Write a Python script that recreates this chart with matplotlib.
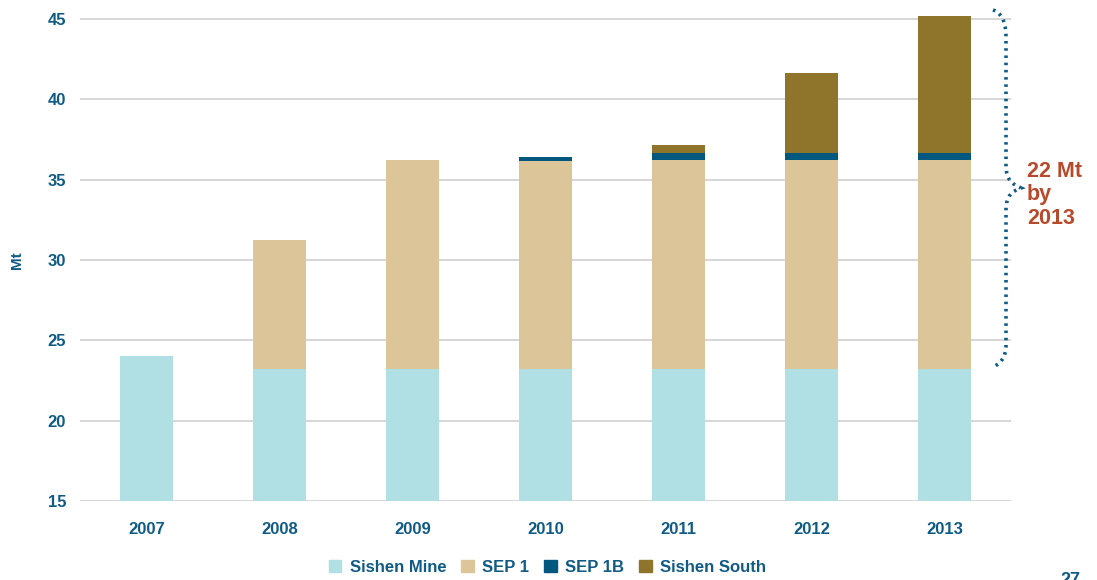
import numpy as np
import matplotlib.pyplot as plt
from matplotlib.path import Path
from matplotlib.patches import PathPatch, Patch

plt.rcParams['font.family'] = ['Liberation Sans', 'DejaVu Sans']
plt.rcParams['font.weight'] = 'bold'

years = ['2007', '2008', '2009', '2010', '2011', '2012', '2013']
sishen_mine = [24.0, 23.2, 23.2, 23.2, 23.2, 23.2, 23.2]
sep1 = [0.0, 8.05, 13.0, 12.95, 13.0, 13.0, 13.0]
sep1b = [0.0, 0.0, 0.0, 0.25, 0.45, 0.45, 0.45]
sishen_south = [0.0, 0.0, 0.0, 0.0, 0.5, 5.0, 8.55]

names = ['Sishen Mine', 'SEP 1', 'SEP 1B', 'Sishen South']
cols = ['#b0dfe4', '#dcc699', '#02577f', '#8f752c']
blue = '#0f5b86'

W, H = 1097, 580
ppu = 482 / 30.0  # pixels per Mt
ytop = 45.5
fig = plt.figure(figsize=(W/100, H/100), dpi=100)
ax = fig.add_axes([80/W, 1-501/H, 931/W, (ytop-15)*ppu/H])

x = np.arange(len(years))
base = np.zeros(len(years))
for vals, c in zip([sishen_mine, sep1, sep1b, sishen_south], cols):
    v = np.array(vals)
    ax.bar(x, v, 0.4, bottom=base, color=c, zorder=2)
    base = base + v

ax.set_ylim(15, ytop)
ax.set_xlim(-0.5, 6.5)
ax.set_yticks([15, 20, 25, 30, 35, 40, 45])
ax.set_xticks(x)
ax.set_xticklabels(years)
ax.grid(axis='y', color='#d0d0d0', lw=1.2, zorder=0)
for s in ax.spines.values():
    s.set_visible(False)
ax.tick_params(length=0, labelsize=12, labelcolor=blue)
ax.tick_params(axis='x', pad=15)
ax.tick_params(axis='y', pad=10)
ax.set_ylabel('Mt', fontsize=11, color=blue, fontweight='bold')
ax.yaxis.set_label_coords(-56/931, 15/(ytop-15))

handles = [Patch(color=c) for c in cols]
leg = fig.legend(handles, names, loc='center', bbox_to_anchor=(0.499, 1-567/H),
                 ncol=4, frameon=False, handlelength=0.75, handleheight=0.75,
                 handletextpad=0.5, columnspacing=0.9, prop={'size': 12, 'weight': 'bold'})
for t in leg.get_texts():
    t.set_color(blue)

# curly brace on the right (pixel coords -> figure fraction)
pts = [(993, 10), (1004, 14), (1006, 25), (1006, 40),
       (1006, 100), (1006, 160), (1006, 165),
       (1006, 180), (1012, 184), (1021, 188),
       (1012, 191), (1006, 196), (1006, 210),
       (1006, 260), (1006, 320), (1006, 345),
       (1006, 358), (1000, 364), (993, 367)]
codes = [Path.MOVETO] + [Path.CURVE4] * 3 + [Path.LINETO] * 3 + \
        [Path.CURVE4] * 6 + [Path.LINETO] * 3 + [Path.CURVE4] * 3
fpts = [(px/W, 1-py/H) for px, py in pts]
brace = PathPatch(Path(fpts, codes), fill=False, ec=blue, lw=2.6, ls=(0, (0.7, 1.3)),
                  transform=fig.transFigure, clip_on=False)
fig.patches.append(brace)

fig.text(1027/W, 1-161/H, '22 Mt\nby\n2013', color='#b84a2c', fontsize=15.5,
         fontweight='bold', va='top', ha='left', linespacing=1.15)

fig.text(1060/W, 1-572/H, '27', color=blue, fontsize=13, fontweight='bold', va='top')

fig.savefig('out.png', dpi=100)
